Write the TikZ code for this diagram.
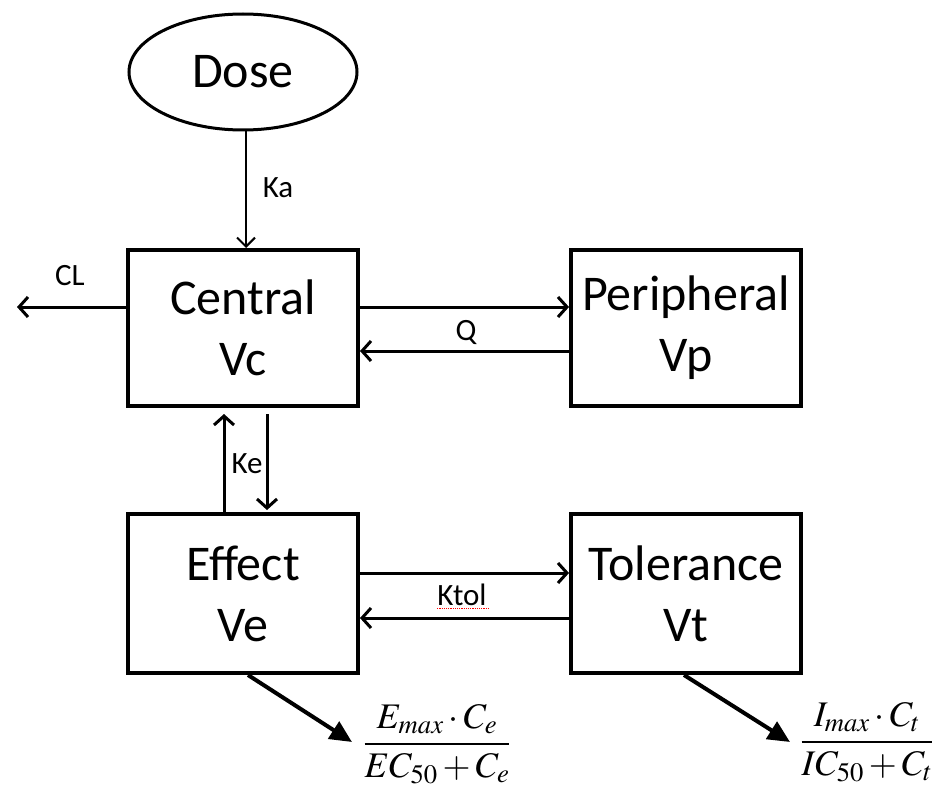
\documentclass[tikz,border=0pt]{standalone}
\usepackage{mathptmx}
\usepackage[no-math]{fontspec}
\setmainfont{Carlito}
\usetikzlibrary{arrows.meta,shapes.geometric}
\begin{document}
\begin{tikzpicture}[x=1pt,y=-1pt,
  box/.style={draw, line width=4pt, minimum width=230pt, inner sep=0pt, align=center, font=\fontsize{50}{61}\selectfont},
  lbl/.style={font=\fontsize{31}{31}\selectfont, inner sep=0pt},
  flow/.style={line width=3pt, -{Straight Barb[length=9pt,width=20pt,line width=3pt]}},
  thinflow/.style={line width=2pt, -{Straight Barb[length=9pt,width=18pt,line width=2pt]}},
  outarrow/.style={line width=4pt, -{Triangle[length=22pt,width=20pt]}},
  formula/.style={inner sep=0pt, font=\fontsize{36}{41}\selectfont}]
\useasboundingbox (0,0) rectangle (932,789);

\node[ellipse, draw, line width=3pt, minimum width=228pt, minimum height=116pt, inner sep=0pt, font=\fontsize{50}{61}\selectfont] (dose) at (243,72) {Dose};

\node[box, minimum height=156pt] (central) at (243,328) {Central\\Vc};
\node[box, minimum height=156pt] (peripheral) at (686,328) {Peripheral\\Vp};
\node[box, minimum height=159pt] (effect) at (243,593.5) {Effect\\Ve};
\node[box, minimum height=159pt] (tolerance) at (686,593.5) {Tolerance\\Vt};

\coordinate (clend) at (17,307);
\coordinate (f1tip) at (352,742);
\coordinate (f2tip) at (790,742);

% Ka
\draw[thinflow] ([xshift=3pt]dose.south) -- ([xshift=3pt]central.north);
\node[lbl] (ka) at (278,188) {Ka};

% CL
\draw[flow] ([yshift=21pt]central.west) -- (clend);
\node[lbl] (cl) at (70,276) {CL};

% Q
\draw[flow] ([yshift=21pt]central.east) -- ([yshift=21pt]peripheral.west);
\draw[flow] ([yshift=-23pt]peripheral.west) -- ([yshift=-23pt]central.east);
\node[lbl] (q) at (466,332) {Q};

% Ke
\draw[flow, shorten >=6pt] ([xshift=-19pt]effect.north) -- ([xshift=-19pt]central.south);
\draw[flow, shorten <=6pt, shorten >=2pt] ([xshift=24pt]central.south) -- ([xshift=24pt]effect.north);
\node[lbl] (ke) at (247,464) {Ke};

% Ktol
\draw[flow] ([yshift=20.5pt]effect.east) -- ([yshift=20.5pt]tolerance.west);
\draw[flow] ([yshift=-24.5pt]tolerance.west) -- ([yshift=-24.5pt]effect.east);
\node[lbl] (ktol) at (462,595) {Ktol};
\draw[red, line width=1.2pt, densely dotted] (ktol.south west) ++(0,2.5) -- ++(51,0);

% outputs
\draw[outarrow] ([xshift=5pt]effect.south) -- (f1tip);
\draw[outarrow] ([xshift=-2pt]tolerance.south) -- (f2tip);

\node[formula] (f1) at (437,744) {$\displaystyle\frac{E_{max}\cdot C_e}{EC_{50}+C_e}$};
\node[formula] (f2) at (867,742) {$\displaystyle\frac{I_{max}\cdot C_t}{IC_{50}+C_t}$};
\end{tikzpicture}
\end{document}
